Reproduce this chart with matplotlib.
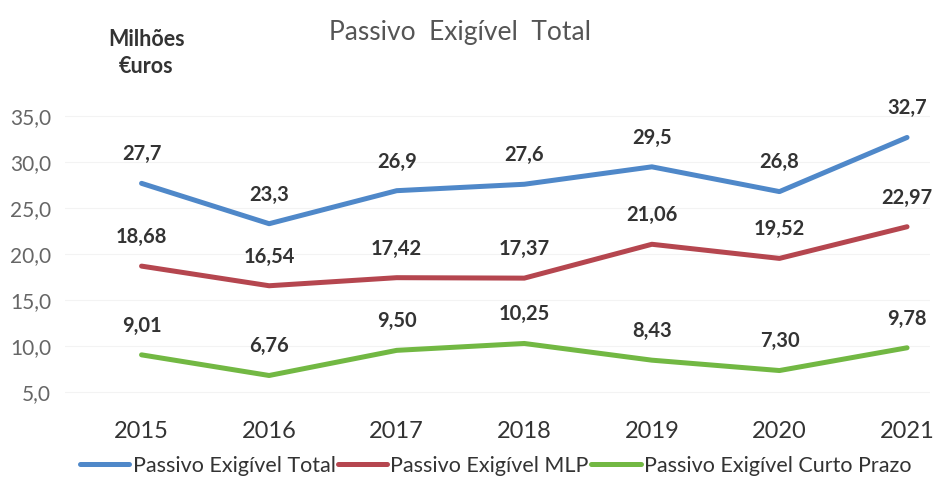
import matplotlib
matplotlib.use("Agg")
import matplotlib.pyplot as plt

plt.rcParams["font.family"] = ["Lato", "DejaVu Sans"]

# Valores em milhões de euros
anos = ["2015", "2016", "2017", "2018", "2019", "2020", "2021"]
total = [27.7, 23.3, 26.9, 27.6, 29.5, 26.8, 32.7]
mlp = [18.68, 16.54, 17.42, 17.37, 21.06, 19.52, 22.97]
curto = [9.01, 6.76, 9.50, 10.25, 8.43, 7.30, 9.78]

series = [
    ("Passivo Exigível Total", total, "#4f88c9", 1),
    ("Passivo Exigível MLP", mlp, "#b5464f", 2),
    ("Passivo Exigível Curto Prazo", curto, "#72b843", 2),
]
yticks = [5, 10, 15, 20, 25, 30, 35]

COL_TXT = "#333333"
COL_AXIS = "#666666"

fig = plt.figure(figsize=(9.44, 4.84), dpi=100)
ax = fig.add_axes([65 / 944, 1 - 410 / 484, 865 / 944, 312 / 484])

x = list(range(len(anos)))
for nome, vals, cor, casas in series:
    ax.plot(x, vals, color=cor, linewidth=3.6, solid_capstyle="round",
            solid_joinstyle="round", label=nome, zorder=3)
    for xi, v in zip(x, vals):
        txt = f"{v:.{casas}f}".replace(".", ",")
        ax.annotate(txt, xy=(xi, v), xytext=(0, 21), textcoords="offset points",
                    ha="center", va="center", fontsize=14.5, fontweight="bold",
                    color=COL_TXT, zorder=5)

ax.set_xlim(-0.6, 6.18)
ax.set_ylim(3, 37)
ax.set_xticks(x)
ax.set_xticklabels(anos, fontsize=17, color=COL_TXT)
ax.set_yticks(yticks)
ax.set_yticklabels([f"{t:.1f}".replace(".", ",") for t in yticks],
                   fontsize=15, color=COL_AXIS)
ax.tick_params(axis="both", length=0)
ax.tick_params(axis="x", pad=8)
ax.tick_params(axis="y", pad=10)
ax.grid(axis="y", color="#f3f3f3", linewidth=0.8)
for s in ax.spines.values():
    s.set_visible(False)

fig.text(0.487, 0.933, "Passivo  Exigível  Total", ha="center", va="center",
         fontsize=19, color="#555555")
fig.text(0.155, 0.891, "Milhões\n€uros", ha="center", va="center",
         fontsize=15.5, fontweight="bold", color=COL_TXT, linespacing=1.35)

fig.legend(loc="center", bbox_to_anchor=(0.525, 1 - 466 / 484), ncol=3,
           frameon=False, fontsize=15.5, handlelength=2.3, handletextpad=0.15,
           columnspacing=0.1, labelcolor=COL_TXT)

fig.savefig("out.png", dpi=100, facecolor="white")
